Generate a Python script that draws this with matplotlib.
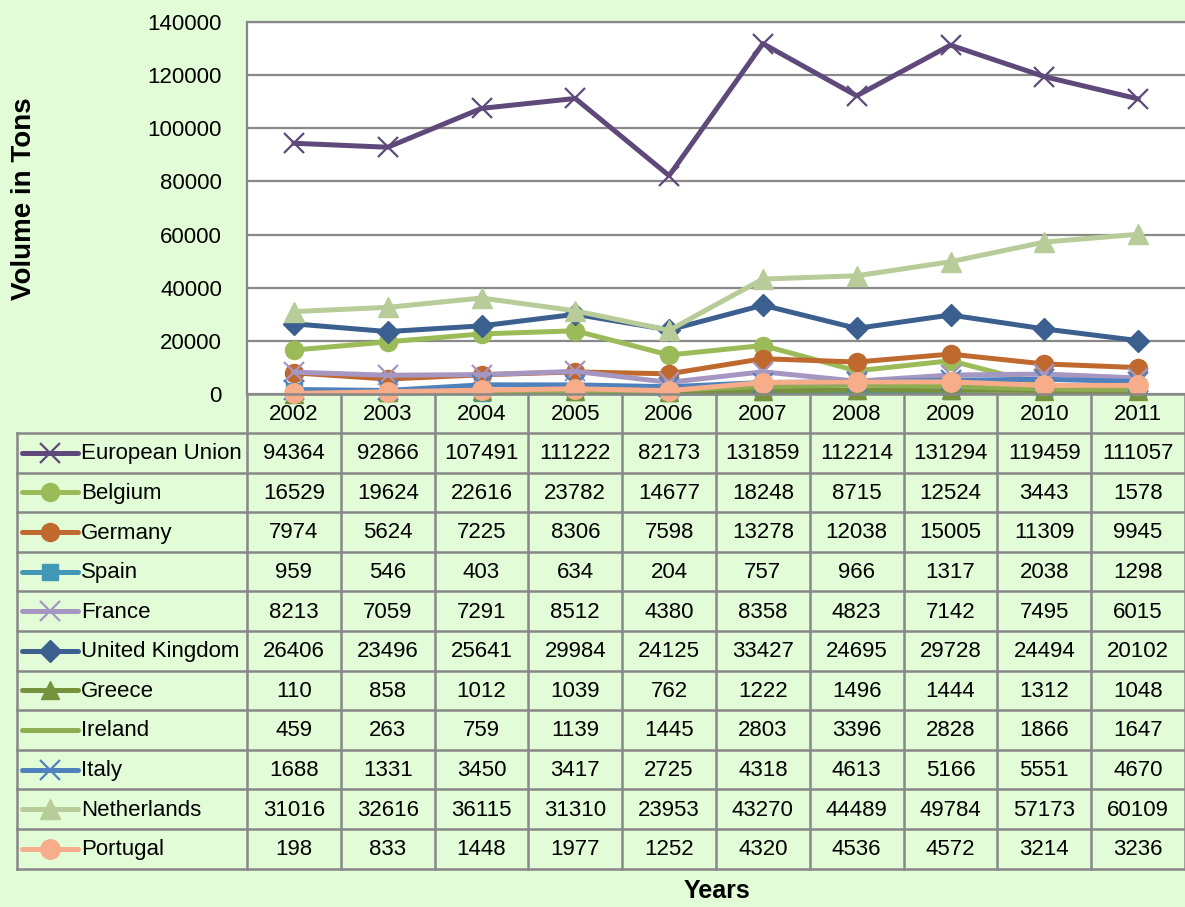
import matplotlib
matplotlib.use("Agg")
import matplotlib.pyplot as plt
from matplotlib import font_manager

years = [2002, 2003, 2004, 2005, 2006, 2007, 2008, 2009, 2010, 2011]
countries = ["European Union", "Belgium", "Germany", "Spain", "France",
             "United Kingdom", "Greece", "Ireland", "Italy", "Netherlands", "Portugal"]

eu = [94364, 92866, 107491, 111222, 82173, 131859, 112214, 131294, 119459, 111057]
belgium = [16529, 19624, 22616, 23782, 14677, 18248, 8715, 12524, 3443, 1578]
germany = [7974, 5624, 7225, 8306, 7598, 13278, 12038, 15005, 11309, 9945]
spain = [959, 546, 403, 634, 204, 757, 966, 1317, 2038, 1298]
france = [8213, 7059, 7291, 8512, 4380, 8358, 4823, 7142, 7495, 6015]
uk = [26406, 23496, 25641, 29984, 24125, 33427, 24695, 29728, 24494, 20102]
greece = [110, 858, 1012, 1039, 762, 1222, 1496, 1444, 1312, 1048]
ireland = [459, 263, 759, 1139, 1445, 2803, 3396, 2828, 1866, 1647]
italy = [1688, 1331, 3450, 3417, 2725, 4318, 4613, 5166, 5551, 4670]
netherlands = [31016, 32616, 36115, 31310, 23953, 43270, 44489, 49784, 57173, 60109]
portugal = [198, 833, 1448, 1977, 1252, 4320, 4536, 4572, 3214, 3236]

series = [eu, belgium, germany, spain, france, uk, greece, ireland, italy, netherlands, portugal]

# style per series: colour, marker, marker size
styles = [
    ("#5f497a", "x", 15),
    ("#9bbb59", "o", 13),
    ("#c0692f", "o", 13),
    ("#4198b6", "s", 11),
    ("#a596c2", "x", 15),
    ("#3b5f8e", "D", 11),
    ("#77923c", "^", 13),
    ("#8eac50", "", 0),
    ("#4f81bd", "x", 15),
    ("#b7cc98", "^", 15),
    ("#f7ad8a", "o", 14),
]

bg = "#e2fcd8"
grid_col = "#888888"

names = [f.name for f in font_manager.fontManager.ttflist]
fam = "Liberation Sans Narrow" if "Liberation Sans Narrow" in names else "Liberation Sans"
plt.rcParams["font.family"] = fam
fs = 19 if fam == "Liberation Sans Narrow" else 16

W, H = 1185, 907
fig = plt.figure(figsize=(W / 100, H / 100), dpi=100, facecolor=bg)

# pixel layout
ax_l, ax_r, ax_t, ax_b = 247, 1185, 22, 394
ax = fig.add_axes([ax_l / W, 1 - ax_b / H, (ax_r - ax_l) / W, (ax_b - ax_t) / H])
ax.set_facecolor("white")
x = list(range(len(years)))
for vals, (col, mk, ms) in zip(series, styles):
    mew = 1.6 if mk == "x" else 1
    ax.plot(x, vals, color=col, lw=3.6, marker=mk if mk else None, ms=ms,
            mec=col, mfc=col, mew=mew, clip_on=False, zorder=3)
ax.set_xlim(-0.5, len(years) - 0.5)
ax.set_ylim(0, 140000)
ax.set_yticks(range(0, 140001, 20000))
ax.set_yticklabels([str(v) for v in range(0, 140001, 20000)], fontsize=fs)
ax.set_xticks([])
ax.tick_params(axis="y", length=0, pad=18)
ax.yaxis.grid(True, color=grid_col, lw=1.6)
ax.set_axisbelow(True)
for s in ["right", "bottom"]:
    ax.spines[s].set_visible(False)
ax.spines["top"].set_color(grid_col)
ax.spines["top"].set_linewidth(1.6)
ax.spines["left"].set_color(grid_col)
ax.spines["left"].set_linewidth(1.6)
fig.text(24 / W, 1 - 199 / H, "Volume in Tons", rotation=90, fontsize=20,
         fontweight="bold", ha="center", va="center")

# data table below the chart, pixel coordinates
tab = fig.add_axes([0, 0, 1, 1], facecolor="none")
tab.set_xlim(0, W)
tab.set_ylim(H, 0)
tab.axis("off")

col_w = (ax_r - ax_l) / len(years)
row_h = 39.6
head_top, head_bot = ax_b, 433
tab_left = 17
n = len(countries)
tab_bot = head_bot + n * row_h
lc = dict(color=grid_col, lw=1.8, zorder=1)

# horizontal lines
tab.plot([ax_l, ax_r], [head_top, head_top], **lc)
for i in range(n + 1):
    yy = head_bot + i * row_h
    tab.plot([tab_left, ax_r], [yy, yy], **lc)
# vertical lines
tab.plot([tab_left, tab_left], [head_bot, tab_bot], **lc)
for j in range(len(years) + 1):
    xx = ax_l + j * col_w
    tab.plot([xx, xx], [head_top, tab_bot], **lc)

for j, yr in enumerate(years):
    tab.text(ax_l + (j + 0.5) * col_w, (head_top + head_bot) / 2 + 1, str(yr),
             ha="center", va="center", fontsize=fs)

for i, (name, vals, (col, mk, ms)) in enumerate(zip(countries, series, styles)):
    yc = head_bot + (i + 0.5) * row_h
    tab.plot([22, 78], [yc, yc], color=col, lw=3.6, solid_capstyle="round", zorder=2)
    if mk:
        mew = 1.6 if mk == "x" else 1
        tab.plot([50], [yc], marker=mk, ms=ms, color=col, mew=mew, zorder=3)
    tab.text(81, yc + 1, name, ha="left", va="center", fontsize=fs)
    for j, v in enumerate(vals):
        tab.text(ax_l + (j + 0.5) * col_w, yc + 1, str(v), ha="center", va="center",
                 fontsize=fs)

fig.text(717 / W, 1 - 891 / H, "Years", ha="center", va="center", fontsize=18,
         fontweight="bold")

fig.savefig("out.png", dpi=100, facecolor=bg)
